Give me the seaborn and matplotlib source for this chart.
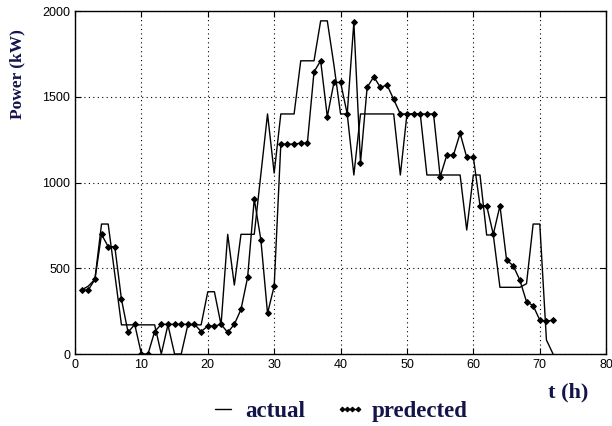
import numpy as np
import pandas as pd
import seaborn as sns
import matplotlib.pyplot as plt

# === Data ===
hours = list(range(1, 73))
actual = [373, 396, 435, 758, 758, 465, 170, 170, 170, 170,
          170, 170, 0, 170, 0, 0, 170, 170, 170, 363,
          363, 170, 698, 402, 698, 698, 698, 1050, 1400, 1055,
          1400, 1400, 1400, 1710, 1710, 1710, 1943, 1943, 1685, 1400,
          1400, 1044, 1400, 1400, 1400, 1400, 1400, 1400, 1044, 1400,
          1400, 1400, 1044, 1044, 1044, 1044, 1044, 1044, 723, 1044,
          1044, 694, 694, 389, 389, 389, 389, 410, 758, 758,
          82, 0]
predicted = [373, 373, 435, 698, 626, 626, 319, 126, 173, 0,
             0, 131, 173, 173, 173, 173, 173, 173, 131, 163,
             163, 173, 126, 173, 260, 447, 904, 665, 237, 396,
             1224, 1224, 1224, 1230, 1230, 1646, 1710, 1384, 1584, 1584,
             1400, 1934, 1116, 1555, 1617, 1555, 1569, 1485, 1400, 1400,
             1400, 1400, 1400, 1400, 1034, 1160, 1160, 1287, 1147, 1147,
             865, 865, 698, 865, 548, 515, 431, 305, 282, 198,
             190, 198]

df = pd.DataFrame({"t": hours, "actual": actual, "predected": predicted})

navy = "#14144a"
serif = ["Times New Roman", "Liberation Serif", "DejaVu Serif"]

sns.set_style("white")
plt.rcParams["font.family"] = ["Liberation Sans", "DejaVu Sans"]

fig = plt.figure(figsize=(6.12, 4.26), dpi=100)
ax = fig.add_axes([0.1225, 0.169, 0.868, 0.805])

sns.lineplot(data=df, x="t", y="actual", ax=ax, color="black", linewidth=1.0,
             label="actual", legend=False)
sns.lineplot(data=df, x="t", y="predected", ax=ax, color="black", linewidth=1.0,
             marker="D", markersize=3, markeredgecolor="black",
             label="predected", legend=False)

ax.set_xlim(0, 80)
ax.set_ylim(0, 2000)
ax.set_xticks(range(0, 81, 10))
ax.set_yticks(range(0, 2001, 500))
ax.grid(True, color="black", linestyle=(0, (1, 3)), linewidth=0.8)
for s in ax.spines.values():
    s.set_color("black")
    s.set_linewidth(1.0)
ax.tick_params(direction="in", length=4, width=0.8, labelsize=9, colors="black",
               top=True, right=True, bottom=True, left=True)
ax.set_xlabel("")
ax.set_ylabel("")

# axis titles sit where the original put them
fig.text(0.029, 0.826, "Power (kW)", fontsize=12.5, fontweight="bold", color=navy,
         family=serif, rotation=90, ha="center", va="center")
fig.text(0.928, 0.078, "t (h)", fontsize=16, fontweight="bold", color=navy,
         family=serif, ha="center", va="center")

handles, labels = ax.get_legend_handles_labels()
leg = fig.legend(handles, labels, loc="center", bbox_to_anchor=(0.552, 0.035), ncol=2,
                 frameon=False, handlelength=1.3, numpoints=4, columnspacing=1.3,
                 handletextpad=0.3, markerscale=0.8,
                 prop={"family": serif, "weight": "bold", "size": 16.5})
for t in leg.get_texts():
    t.set_color(navy)

fig.savefig("out.png", dpi=100)
